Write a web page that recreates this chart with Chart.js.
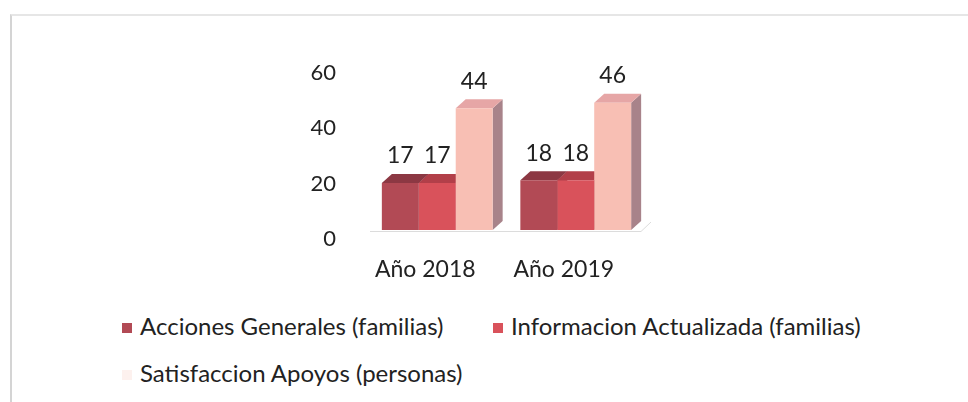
<!DOCTYPE html>
<html>
<head>
<meta charset="utf-8">
<script src="https://cdn.jsdelivr.net/npm/chart.js@4"></script>
<style>
  body { margin: 0; background: #fff; font-family: Lato, sans-serif; }
  .page { position: relative; width: 968px; height: 402px; overflow: hidden; }
  .frame { position: absolute; left: 10px; top: 14px; width: 970px; height: 400px;
           border-left: 2px solid #d4d4d4; border-top: 2px solid #e6e6e6; }
  .box { position: absolute; left: 250px; top: 40px; width: 460px; height: 250px; }
  .legend { position: absolute; left: 122px; top: 311px; width: 820px; color: #222; font-size: 24px; }
  .item { position: absolute; white-space: nowrap; line-height: 30px; }
  .item span { display: inline-block; width: 10px; height: 10px; margin-right: 8px; vertical-align: 2px; }
</style>
</head>
<body>
<div class="page">
  <div class="frame"></div>
  <div class="box"><canvas id="barChart"></canvas></div>
  <div class="legend" id="legend"></div>
</div>
<script>
const years = ["Año 2018", "Año 2019"];
const accionesGenerales = [17, 18];
const informacionActualizada = [17, 18];
const satisfaccionApoyos = [44, 46];
const yTicks = [0, 20, 40, 60];

const seriesNames = ["Acciones Generales (familias)", "Informacion Actualizada (familias)", "Satisfaccion Apoyos (personas)"];
const frontColors = ["#b24a55", "#d9525b", "#f8bfb4"];
const topColors = ["#8c3843", "#b23f49", "#e6a6a6"];
const sideColors = ["#7c2f39", "#983641", "#a8838a"];
const legendColors = ["#b24a55", "#d9525b", "#fdf1ee"];

const depthX = 10, depthY = 9;

// sides and tops go under the front faces that Chart.js draws
const bars3d = {
    id: "bars3d",
    beforeDatasetsDraw(chart) {
        const ctx = chart.ctx;
        const area = chart.chartArea;
        ctx.save();
        // faint floor
        ctx.strokeStyle = "#dcdcdc";
        ctx.lineWidth = 1;
        ctx.beginPath();
        ctx.moveTo(area.left + 2, area.bottom + 1.5);
        ctx.lineTo(area.right - 4, area.bottom + 1.5);
        ctx.lineTo(area.right + 6, area.bottom - 8);
        ctx.stroke();
        chart.data.datasets.forEach((ds, i) => {
            chart.getDatasetMeta(i).data.forEach(bar => {
                const l = bar.x - bar.width / 2, r = bar.x + bar.width / 2;
                ctx.fillStyle = sideColors[i];
                ctx.beginPath();
                ctx.moveTo(r, bar.y);
                ctx.lineTo(r + depthX, bar.y - depthY);
                ctx.lineTo(r + depthX, bar.base - depthY);
                ctx.lineTo(r, bar.base);
                ctx.closePath();
                ctx.fill();
                ctx.fillStyle = topColors[i];
                ctx.beginPath();
                ctx.moveTo(l, bar.y);
                ctx.lineTo(l + depthX, bar.y - depthY);
                ctx.lineTo(r + depthX, bar.y - depthY);
                ctx.lineTo(r, bar.y);
                ctx.closePath();
                ctx.fill();
            });
        });
        ctx.restore();
    },
    afterDatasetsDraw(chart) {
        const ctx = chart.ctx;
        ctx.save();
        ctx.font = "23px Lato";
        ctx.fillStyle = "#222";
        ctx.textAlign = "center";
        ctx.textBaseline = "middle";
        chart.data.datasets.forEach((ds, i) => {
            chart.getDatasetMeta(i).data.forEach((bar, j) => {
                ctx.fillText(ds.data[j], bar.x, bar.y - 27);
            });
        });
        ctx.restore();
    }
};

new Chart(document.getElementById("barChart"), {
    type: "bar",
    data: {
        labels: years,
        datasets: [accionesGenerales, informacionActualizada, satisfaccionApoyos].map((d, i) => ({
            label: seriesNames[i],
            data: d,
            backgroundColor: frontColors[i],
            borderWidth: 0,
            categoryPercentage: 0.8,
            barPercentage: 1
        }))
    },
    options: {
        animation: false,
        responsive: true,
        maintainAspectRatio: false,
        layout: { padding: { top: 24, right: 65, left: 0, bottom: 0 } },
        plugins: {
            legend: { display: false },
            tooltip: { enabled: false }
        },
        scales: {
            x: {
                grid: { display: false, drawTicks: false },
                border: { display: false },
                ticks: { color: "#222", font: { family: "Lato", size: 23 }, padding: 26, labelOffset: -12 },
                afterFit: s => { s.height = 60; s.paddingLeft = 0; s.paddingRight = 0; }
            },
            y: {
                min: 0,
                max: 60,
                afterBuildTicks: s => { s.ticks = yTicks.map(v => ({ value: v })); },
                grid: { display: false, drawTicks: false },
                border: { display: false },
                ticks: { color: "#222", font: { family: "Lato", size: 22 }, padding: 32, labelOffset: 9 },
                afterFit: s => { s.width = 118; s.paddingTop = 0; s.paddingBottom = 0; }
            }
        }
    },
    plugins: [bars3d]
});

const legend = document.getElementById("legend");
const spots = [[0, 0], [371, 0], [0, 47]];
seriesNames.forEach((name, i) => {
    const el = document.createElement("div");
    el.className = "item";
    el.style.left = spots[i][0] + "px";
    el.style.top = spots[i][1] + "px";
    el.innerHTML = '<span style="background:' + legendColors[i] + '"></span>' + name;
    legend.appendChild(el);
});
</script>
</body>
</html>
